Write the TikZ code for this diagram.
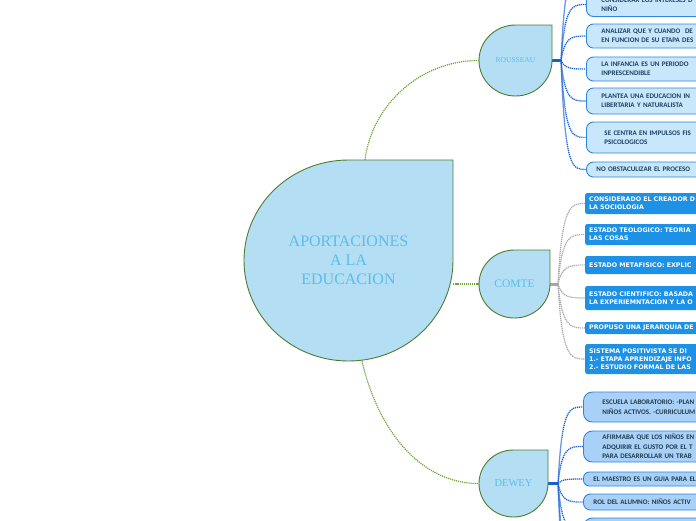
\documentclass[tikz,border=0pt]{standalone}
\usepackage{fontspec}
\setmainfont{Liberation Serif}
\newfontfamily\carl{Carlito}
\newfontfamily\deja{DejaVu Sans}
\usetikzlibrary{calc,backgrounds}
\definecolor{cTdFill}{HTML}{B3DEF3}
\definecolor{cTdBorder}{HTML}{4E7D2E}
\definecolor{cTdText}{HTML}{5BBDEA}
\definecolor{cGreen}{HTML}{6DA53A}
\definecolor{cBlue}{HTML}{1560D4}
\definecolor{cRFill}{HTML}{C8E7FB}
\definecolor{cRBorder}{HTML}{2E86E0}
\definecolor{cRText}{HTML}{1B3F66}
\definecolor{cCFill}{HTML}{1C91E6}
\definecolor{cGray}{HTML}{A6A6A6}
\definecolor{cDFill}{HTML}{A9D1F7}
\definecolor{cDText}{HTML}{1F3B4D}
\newcommand\tdrop[4]{\filldraw[tdrop] (#1+#3,#2) arc[start angle=0,end angle=270,x radius=#3,y radius=#4] -- (#1+#3,#2-#4) -- cycle;}
\newcommand\branch[3]{\draw[#1] (#2) .. controls ($(#2 |- #3.west)+(4,0)$) and ($(#3.west)+(-14,0)$) .. (#3.west);}
\begin{document}
\begin{tikzpicture}[x=1pt,y=-1pt,
  tdrop/.style={fill=cTdFill,draw=cTdBorder,line width=0.9pt},
  hub/.style={inner sep=0pt,align=center,text=cTdText},
  gline/.style={draw=cGreen,line width=1.2pt,dash pattern=on 1.2pt off 0.9pt},
  bstub/.style={draw=cBlue,line width=3pt},
  gstub/.style={draw=cGray,line width=3pt},
  bline/.style={draw=cBlue,line width=1.3pt,dash pattern=on 1.2pt off 0.8pt},
  grline/.style={draw=cGray,line width=1.2pt,dash pattern=on 1.2pt off 0.8pt},
  rbox/.style={draw=cRBorder,fill=cRFill,line width=0.9pt,rounded corners=7pt,anchor=west,
    text width=190pt,align=left,inner ysep=0pt,text=cRText,
    font=\carl\bfseries\fontsize{7}{9.2}\selectfont},
  cbox/.style={fill=cCFill,rounded corners=2pt,anchor=west,text width=200pt,align=left,
    inner xsep=4pt,inner ysep=0pt,text=white,font=\deja\bfseries\fontsize{6.3}{8}\selectfont},
  dbox/.style={draw=cRBorder,fill=cDFill,line width=0.9pt,rounded corners=9pt,anchor=west,
    text width=190pt,align=left,inner ysep=0pt,text=cDText,
    font=\carl\bfseries\fontsize{7}{9.5}\selectfont}
]
\useasboundingbox (0,0) rectangle (696,520);
\clip (0,0) rectangle (696,520);
% hubs
\tdrop{348.5}{260.5}{104.5}{100.5}
\node[hub,minimum width=209,minimum height=201,font=\fontsize{16}{19}\selectfont] (main) at (348.5,260.5) {APORTACIONES\\A LA\\EDUCACION};
\tdrop{515.5}{60.5}{36.5}{35.5}
\node[hub,minimum width=73,minimum height=71,font=\fontsize{7.5}{9}\selectfont] (rousseau) at (515.5,60.5) {ROUSSEAU};
\tdrop{514.5}{284}{35.5}{34}
\node[hub,minimum width=71,minimum height=68,font=\fontsize{11.5}{13}\selectfont] (comte) at (514.5,284) {COMTE};
\tdrop{513.5}{483.5}{34.5}{33.5}
\node[hub,minimum width=69,minimum height=67,font=\fontsize{10.5}{12}\selectfont] (dewey) at (513.5,483.5) {DEWEY};
% Rousseau boxes
\coordinate (rs) at (561,60.5);
\coordinate (ra) at (586,-30);
\node[rbox,minimum height=24,inner xsep=15pt] (r0) at (586,4.5) {CONSIDERAR LOS INTERESES D\\NIÑO};
\node[rbox,minimum height=24,inner xsep=15pt] (r1) at (586,36) {ANALIZAR QUE Y CUANDO\ \ DE\\EN FUNCION DE SU ETAPA DES};
\node[rbox,minimum height=24,inner xsep=15pt] (r2) at (586,69) {LA INFANCIA ES UN PERIODO\\INPRESCENDIBLE};
\node[rbox,minimum height=26,inner xsep=15pt] (r3) at (586,101) {PLANTEA UNA EDUCACION IN\\LIBERTARIA Y NATURALISTA};
\node[rbox,minimum height=31,inner xsep=18pt] (r4) at (586,137.5) {SE CENTRA EN IMPULSOS FIS\\PSICOLOGICOS};
\node[rbox,minimum height=15,inner xsep=10pt] (r5) at (586,169.5) {NO OBSTACULIZAR EL PROCESO};
% Comte boxes
\coordinate (cs) at (558,284);
\node[cbox,minimum height=21] (c1) at (585,203.5) {CONSIDERADO EL CREADOR D\\LA SOCIOLOGIA};
\node[cbox,minimum height=21] (c2) at (585,234.5) {ESTADO TEOLOGICO: TEORIA\\LAS COSAS};
\node[cbox,minimum height=18] (c3) at (585,265) {ESTADO METAFISICO: EXPLIC};
\node[cbox,minimum height=24] (c4) at (585,298) {ESTADO CIENTIFICO: BASADA\\LA EXPERIEMNTACION Y LA O};
\node[cbox,minimum height=12] (c5) at (585,328) {PROPUSO UNA JERARQUIA DE};
\node[cbox,minimum height=30] (c6) at (585,359) {SISTEMA POSITIVISTA SE DI\\1.- ETAPA APRENDIZAJE INFO\\2.- ESTUDIO FORMAL DE LAS};
% Dewey boxes
\coordinate (ds) at (558,483.5);
\coordinate (da) at (583,565);
\coordinate (db) at (583,600);
\node[dbox,minimum height=30,inner xsep=19pt] (d1) at (583,407) {ESCUELA LABORATORIO: -PLAN\\NIÑOS ACTIVOS. -CURRICULUM};
\node[dbox,minimum height=31,inner xsep=19pt] (d2) at (583,446.5) {AFIRMABA QUE LOS NIÑOS EN\\ADQUIRIR EL GUSTO POR EL T\\PARA DESARROLLAR UN TRAB};
\node[dbox,minimum height=14,rounded corners=6pt,inner xsep=10pt] (d3) at (583,479) {EL MAESTRO ES UN GUIA PARA EL};
\node[dbox,minimum height=16,rounded corners=7pt,inner xsep=10pt] (d4) at (583,502) {ROL DEL ALUMNO: NIÑOS ACTIV};
\node[dbox,minimum height=24,inner xsep=10pt] (d5) at (583,530) {};
% connectors
\begin{pgfonlayer}{background}
\draw[gline] ([xshift=16.5]main.north) .. controls (372,105) and (420,60.5) .. (rousseau.west);
\draw[gline] (main.east |- comte.west) -- (comte.west);
\draw[gline] ([xshift=13.5]main.south) .. controls (378,430) and (420,483.5) .. (dewey.west);
\draw[bstub] (rousseau.east) -- (rs);
\draw[gstub] (comte.east) -- (cs);
\draw[bstub] (dewey.east) -- (ds);
\draw[bline] (rs) .. controls ($(rs |- ra)+(4,0)$) and ($(ra)+(-14,0)$) .. (ra);
\foreach \b in {r0,r1,r2,r3,r4,r5}{\branch{bline}{rs}{\b}}
\foreach \b in {c1,c2,c3,c4,c5,c6}{\branch{grline}{cs}{\b}}
\foreach \b in {d1,d2,d3,d4,d5}{\branch{bline}{ds}{\b}}
\draw[bline] (ds) .. controls ($(ds |- da)+(4,0)$) and ($(da)+(-14,0)$) .. (da);
\draw[bline] (ds) .. controls ($(ds |- db)+(4,0)$) and ($(db)+(-14,0)$) .. (db);
\end{pgfonlayer}
\end{tikzpicture}
\end{document}
